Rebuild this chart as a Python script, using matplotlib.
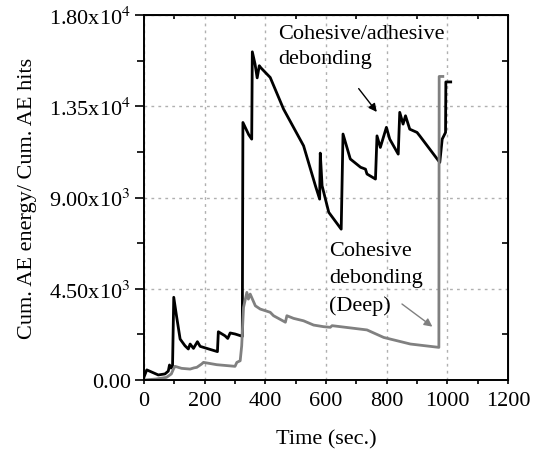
# cumulative AE energy / hits vs time

import numpy as np
import matplotlib.pyplot as plt
from matplotlib.ticker import MultipleLocator, FixedLocator

plt.rcParams['font.family'] = 'Liberation Serif'
plt.rcParams['mathtext.fontset'] = 'stix'
fontsize = 16

# black curve: cohesive/adhesive debonding
t_black = [0, 9, 47, 69, 80, 84, 89, 94, 98, 107, 119, 135, 146, 152, 163, 176, 185,
           242, 245, 267, 276, 284, 300, 319, 324, 326, 345, 355, 357, 366, 373, 380,
           385, 416, 460, 526, 565, 579, 581, 587, 609, 650, 656, 680, 714, 730, 735,
           763, 768, 779, 799, 810, 838, 843, 854, 862, 876, 900, 909, 975, 983, 994,
           995, 1011]
y_black = [150, 500, 250, 300, 440, 740, 590, 700, 4080, 3170, 2020, 1690, 1530, 1775, 1560, 1890, 1660,
           1400, 2380, 2180, 2050, 2320, 2270, 2180, 2150, 12700, 12100, 11880, 16185, 15580, 14900, 15500,
           15400, 14920, 13360, 11550, 9580, 8920, 11190, 9580, 8270, 7440, 12130, 10900, 10490, 10400, 10160,
           9910, 12040, 11470, 12460, 11880, 11140, 13200, 12620, 13030, 12370, 12210, 12040, 10730, 11880, 12210,
           14700, 14700]

# gray curve: cohesive debonding (deep)
t_gray = [0, 40, 74, 90, 97, 102, 124, 152, 165, 174, 190, 196, 240, 300, 306, 317, 322,
          328, 339, 344, 350, 367, 383, 416, 427, 460, 466, 471, 493, 526, 559, 592, 614,
          620, 735, 790, 878, 972, 973, 985]
y_gray = [0, 50, 130, 300, 540, 675, 575, 540, 600, 625, 790, 870, 755, 675, 870, 950, 1690,
          3580, 4320, 3990, 4240, 3660, 3500, 3340, 3170, 2900, 2850, 3170, 3040, 2920, 2710, 2630, 2600,
          2680, 2470, 2100, 1775, 1610, 14970, 14970]

y_ticks = [0, 4500, 9000, 13500, 18000]
y_tick_labels = ['0.00', r'4.50x10$^{3}$', r'9.00x10$^{3}$', r'1.35x10$^{4}$', r'1.80x10$^{4}$']
x_ticks = [0, 200, 400, 600, 800, 1000, 1200]

fig = plt.figure(figsize=(5.38, 4.60), dpi=100)
ax = fig.add_axes([0.2677, 0.1717, 0.6766, 0.7935])

ax.plot(t_black, y_black, color='black', lw=2)
ax.plot(t_gray, y_gray, color='#808080', lw=2)

ax.set_xlim(0, 1200)
ax.set_ylim(0, 18000)
ax.set_xticks(x_ticks)
ax.set_yticks(y_ticks)
ax.set_yticklabels(y_tick_labels)
ax.xaxis.set_minor_locator(MultipleLocator(100))
ax.yaxis.set_minor_locator(MultipleLocator(2250))
ax.tick_params(axis='both', which='both', labelsize=fontsize, width=1.2)
ax.tick_params(axis='x', which='both', direction='out', length=3, pad=5)
ax.tick_params(axis='y', which='major', direction='out', length=6.5, pad=3)
ax.tick_params(axis='y', which='minor', direction='out', length=5)

ax.grid(True, which='major', color='#b0b0b0', linestyle=(0, (2, 3)), lw=1)
for sp in ax.spines.values():
    sp.set_linewidth(1.4)

# inward minor ticks on top and right
top = ax.secondary_xaxis('top')
top.set_xticks([])
top.xaxis.set_minor_locator(FixedLocator([100, 300, 500, 700, 900, 1100]))
top.tick_params(which='minor', direction='in', length=3, width=1.2)
right = ax.secondary_yaxis('right')
right.set_yticks([])
right.yaxis.set_minor_locator(FixedLocator([2250, 6750, 11250, 15750]))
right.tick_params(which='minor', direction='in', length=4, width=1.2)

ax.set_xlabel('Time (sec.)', fontsize=fontsize, labelpad=14)
ax.set_ylabel('Cum. AE energy/ Cum. AE hits', fontsize=fontsize)
ax.yaxis.set_label_coords(-0.294, 0.5)

# annotations
ax.text(442, 17550, 'Cohesive/adhesive\ndebonding', fontsize=fontsize, ha='left', va='top',
        linespacing=1.45)
ax.annotate('', xy=(773, 13110), xytext=(702, 14480),
            arrowprops=dict(arrowstyle='-|>', color='black', lw=1, mutation_scale=12))
ax.text(611, 6850, 'Cohesive\ndebonding\n(Deep)', fontsize=fontsize, ha='left', va='top',
        linespacing=1.55)
ax.annotate('', xy=(958, 2550), xytext=(843, 3830),
            arrowprops=dict(arrowstyle='-|>', color='#808080', lw=1, mutation_scale=12))

fig.savefig('out.png', dpi=100)
